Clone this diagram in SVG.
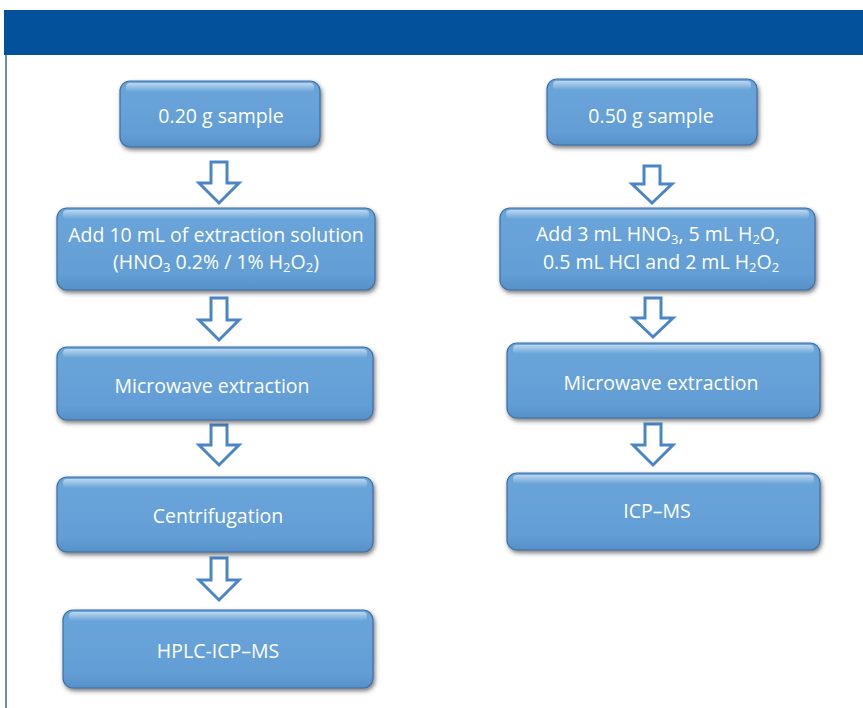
<svg xmlns="http://www.w3.org/2000/svg" width="863" height="708" viewBox="0 0 863 708">
  <defs>
    <linearGradient id="hl" x1="0" y1="0" x2="0" y2="1">
      <stop offset="0" stop-color="#ffffff" stop-opacity="0.55"/>
      <stop offset="1" stop-color="#ffffff" stop-opacity="0"/>
    </linearGradient>
    <linearGradient id="body" x1="0" y1="0" x2="0" y2="1">
      <stop offset="0" stop-color="#6aa5da"/>
      <stop offset="0.8" stop-color="#639ed5"/>
      <stop offset="1" stop-color="#5690c8"/>
    </linearGradient>
    <filter id="sh" x="-10%" y="-10%" width="120%" height="130%">
      <feDropShadow dx="1.5" dy="2.5" stdDeviation="2" flood-color="#333333" flood-opacity="0.65"/>
    </filter>
  </defs>
  <style>
    .box { fill: url(#body); stroke: #3d6fa6; stroke-width: 1.2; filter: url(#sh); }
    .hl { fill: url(#hl); }
    .t { font-family: "Open Sans", "Noto Sans", sans-serif; font-size: 19.5px; fill: #ffffff; text-anchor: middle; }
    .arrow { fill: #ffffff; stroke: #4a86c5; stroke-width: 3; stroke-linejoin: miter; }
  </style>
  <rect x="0" y="0" width="863" height="708" fill="#ffffff"/>
  <rect x="4" y="10" width="859" height="45" fill="#03519b"/>
  <line x1="6" y1="55" x2="6" y2="708" stroke="#3a64a8" stroke-width="1.5"/>

  <g id="connectors">
    <path class="arrow" d="M211,162 H227 V183 H239 L219,203 L199,183 H211 Z"/>
    <path class="arrow" d="M211,298 H227 V320 H239 L219,340 L199,320 H211 Z"/>
    <path class="arrow" d="M211,425 H227 V445 H239 L219,465 L199,445 H211 Z"/>
    <path class="arrow" d="M211,558 H227 V580 H239 L219,600 L199,580 H211 Z"/>
    <path class="arrow" d="M644,166 H660 V184 H672 L652,203 L632,184 H644 Z"/>
    <path class="arrow" d="M645,298 H661 V318 H673 L653,337 L633,318 H645 Z"/>
    <path class="arrow" d="M645,424 H661 V445 H673 L653,465 L633,445 H645 Z"/>
  </g>

  <g id="l1">
    <rect class="box" x="120" y="81" width="200" height="66" rx="10"/>
    <rect class="hl" x="126" y="83" width="188" height="9" rx="4"/>
    <text class="t" x="221" y="123">0.20 g sample</text>
  </g>
  <g id="l2">
    <rect class="box" x="57" y="208" width="318" height="82" rx="10"/>
    <rect class="hl" x="63" y="210" width="306" height="9" rx="4"/>
    <text class="t" x="216" y="242">Add 10 mL of extraction solution</text>
    <text class="t" x="216" y="269">(HNO<tspan font-size="13" dy="3">3</tspan><tspan dy="-3"> 0.2% / 1% H</tspan><tspan font-size="13" dy="3">2</tspan><tspan dy="-3">O</tspan><tspan font-size="13" dy="3">2</tspan><tspan dy="-3">)</tspan></text>
  </g>
  <g id="l3">
    <rect class="box" x="57" y="347" width="316" height="73" rx="10"/>
    <rect class="hl" x="63" y="349" width="304" height="9" rx="4"/>
    <text class="t" x="212" y="393">Microwave extraction</text>
  </g>
  <g id="l4">
    <rect class="box" x="57" y="477" width="316" height="75" rx="10"/>
    <rect class="hl" x="63" y="479" width="304" height="9" rx="4"/>
    <text class="t" x="218" y="523">Centrifugation</text>
  </g>
  <g id="l5">
    <rect class="box" x="63" y="610" width="310" height="78" rx="10"/>
    <rect class="hl" x="69" y="612" width="298" height="9" rx="4"/>
    <text class="t" x="218" y="658">HPLC-ICP–MS</text>
  </g>

  <g id="r1">
    <rect class="box" x="547" y="79" width="210" height="66" rx="10"/>
    <rect class="hl" x="553" y="81" width="198" height="9" rx="4"/>
    <text class="t" x="651" y="123">0.50 g sample</text>
  </g>
  <g id="r2">
    <rect class="box" x="500" y="208" width="315" height="82" rx="10"/>
    <rect class="hl" x="506" y="210" width="303" height="9" rx="4"/>
    <text class="t" x="658" y="241">Add 3 mL HNO<tspan font-size="13" dy="3">3</tspan><tspan dy="-3">, 5 mL H</tspan><tspan font-size="13" dy="3">2</tspan><tspan dy="-3">O,</tspan></text>
    <text class="t" x="661" y="269">0.5 mL HCl and 2 mL H<tspan font-size="13" dy="3">2</tspan><tspan dy="-3">O</tspan><tspan font-size="13" dy="3">2</tspan></text>
  </g>
  <g id="r3">
    <rect class="box" x="507" y="343" width="313" height="75" rx="10"/>
    <rect class="hl" x="513" y="345" width="301" height="9" rx="4"/>
    <text class="t" x="661" y="390">Microwave extraction</text>
  </g>
  <g id="r4">
    <rect class="box" x="507" y="473" width="313" height="77" rx="10"/>
    <rect class="hl" x="513" y="475" width="301" height="9" rx="4"/>
    <text class="t" x="657" y="518">ICP–MS</text>
  </g>
</svg>
